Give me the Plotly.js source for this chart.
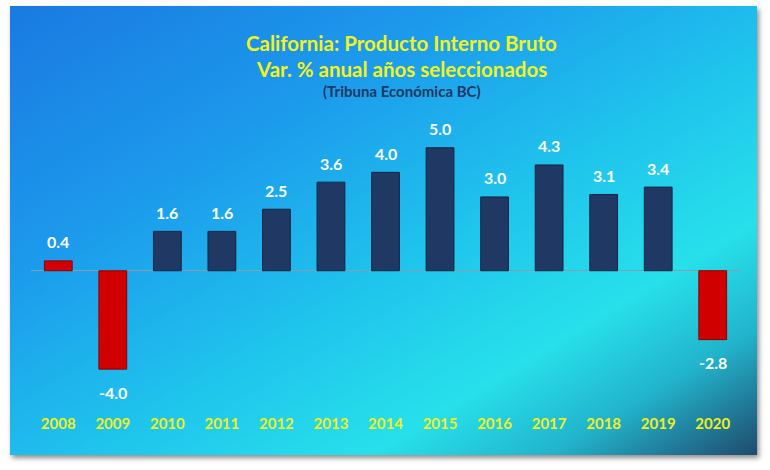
<!DOCTYPE html>
<html>
<head>
<meta charset="utf-8">
<script src="https://cdn.plot.ly/plotly-3.0.1.min.js"></script>
<style>
  body { margin: 0; background: #ffffff; }
  #wrap { position: relative; width: 770px; height: 470px; }
  /* chart frame with gradient fill */
  #frame {
    position: absolute; left: 10px; top: 6px; width: 747px; height: 449px;
    background: linear-gradient(149deg, #1a7ae0 0%, #1c9aec 30%, #1fc4ec 55%, #27e0ea 74%, #22b4cc 86%, #1f4a6c 100%);
    box-shadow: 2px 3px 5px rgba(0,0,0,0.45);
  }
  #chartDiv { position: absolute; left: 0; top: 0; width: 770px; height: 470px; }
</style>
</head>
<body>
<div id="wrap">
  <div id="frame"></div>
  <div id="chartDiv"></div>
</div>
<script>
// Data
const years = ['2008', '2009', '2010', '2011', '2012', '2013', '2014', '2015', '2016', '2017', '2018', '2019', '2020'];
const growth = [0.4, -4.0, 1.6, 1.6, 2.5, 3.6, 4.0, 5.0, 3.0, 4.3, 3.1, 3.4, -2.8];
// crisis years shown in red
const crisisYears = ['2008', '2009', '2020'];

const fontFam = 'Lato, "Open Sans", sans-serif';

const barColors = years.map(y => crisisYears.includes(y) ? '#d00000' : '#1f3864');
const edgeColors = years.map(y => crisisYears.includes(y) ? '#8a0000' : '#122646');

const bars = {
  x: years,
  y: growth,
  type: 'bar',
  width: 0.51,
  marker: { color: barColors, line: { color: edgeColors, width: 1 } },
  hoverinfo: 'x+y'
};

// value labels above / below each bar (x as category index)
const valueLabels = years.map((yr, i) => ({
  x: i,
  y: growth[i],
  xref: 'x',
  yref: 'y',
  text: growth[i].toFixed(1),
  showarrow: false,
  yanchor: 'middle',
  yshift: growth[i] < 0 ? -23 : 19,
  font: { family: fontFam, size: 16, color: '#ffffff', weight: 'bold' }
}));

const titleLines = [
  { y: 43, text: 'California: Producto Interno Bruto', size: 20.5, color: '#f2f21c' },
  { y: 69, text: 'Var. % anual años seleccionados', size: 20.5, color: '#f2f21c' },
  { y: 91, text: '(Tribuna Económica BC)', size: 15, color: '#1f3864' }
];
const titleNotes = titleLines.map(t => ({
  xref: 'paper',
  yref: 'paper',
  x: 0.523,
  y: 1 + (115 - t.y) / 295,
  text: t.text,
  showarrow: false,
  xanchor: 'center',
  yanchor: 'middle',
  font: { family: fontFam, size: t.size, color: t.color, weight: 'bold' }
}));

const layout = {
  width: 770,
  height: 470,
  margin: { l: 31, r: 30, t: 115, b: 60 },
  paper_bgcolor: 'rgba(0,0,0,0)',
  plot_bgcolor: 'rgba(0,0,0,0)',
  showlegend: false,
  xaxis: {
    type: 'category',
    range: [-0.5, 12.5],
    showgrid: false,
    showline: false,
    ticks: '',
    ticklabelstandoff: 3,
    tickfont: { family: fontFam, size: 15, color: '#eef01e', weight: 'bold' },
    fixedrange: true
  },
  yaxis: {
    range: [-5.66, 6.33],
    showgrid: false,
    showticklabels: false,
    zeroline: true,
    zerolinecolor: '#849fb2',
    zerolinewidth: 1,
    fixedrange: true
  },
  annotations: titleNotes.concat(valueLabels)
};

Plotly.newPlot('chartDiv', [bars], layout, { displayModeBar: false, staticPlot: true });
</script>
</body>
</html>
